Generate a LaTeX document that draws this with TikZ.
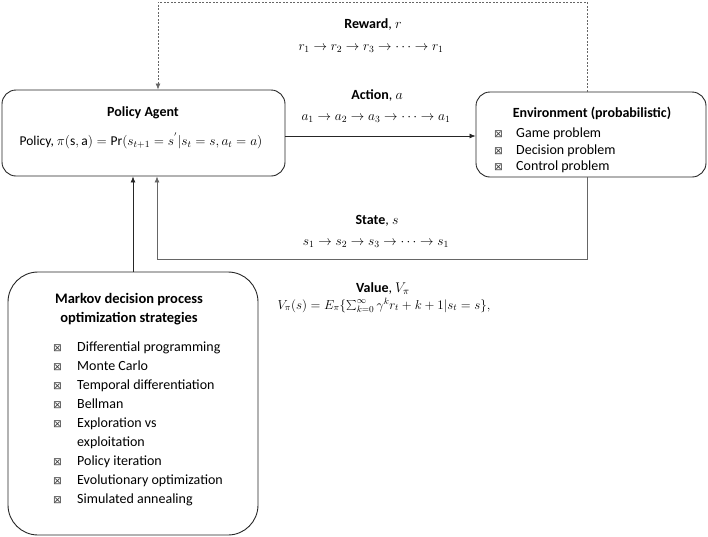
\RequirePackage{fix-cm}
\documentclass[tikz,border=0pt]{standalone}
\usepackage{fontspec}
\setmainfont{Carlito}
\newfontfamily\dv{DejaVu Sans}
\usetikzlibrary{arrows.meta}
\newcommand{\bx}{{\dv\fontsize{10.5}{12}\selectfont\color{black!75}⊠}}
\begin{document}
\begin{tikzpicture}[x=1pt,y=-1pt,
  box/.style={draw=black!85,line width=0.9pt,rounded corners=14pt},
  conn/.style={line width=0.7pt,-{Latex[length=6pt,width=5pt]}},
  lbl/.style={font=\fontsize{14}{17}\selectfont,inner sep=0pt,anchor=base},
  chain/.style={lbl,font=\fontsize{13.5}{17}\selectfont},
  item/.style={font=\fontsize{14}{17}\selectfont,inner sep=0pt,anchor=base west}]
\useasboundingbox (0,0) rectangle (708,536);
% boxes
\node[box,minimum width=283pt,minimum height=86pt] (pol) at (143.5,133) {};
\node[box,minimum width=230pt,minimum height=85pt] (env) at (591,134.5) {};
\node[box,rounded corners=30pt,minimum width=250pt,minimum height=263pt] (mk) at (133,403.5) {};
% coordinates
\coordinate (dtop) at (587,2);
\coordinate (dleft) at (158,2);
\coordinate (ay) at (0,136);
\coordinate (sbot) at (587,259);
\coordinate (sleft) at (157,259);
\coordinate (mx) at (133,0);
% connectors
\draw[conn,black!60,dash pattern=on 2pt off 1.5pt] (env.north -| dtop) -- (dtop) -- (dleft) -- (dleft |- pol.north);
\draw[conn,black!85] (pol.east |- ay) -- (env.west |- ay);
\draw[conn,black!60] (env.south -| sbot) -- (sbot) -- (sleft) -- (sleft |- pol.south);
\draw[conn,black!85] (mk.north -| mx) -- (pol.south -| mx);
% reward
\node[lbl] (rw) at (373,28) {\textbf{Reward}, $r$};
\node[chain] (rwc) at (371,50) {$r_1 \rightarrow r_2 \rightarrow r_3 \rightarrow\cdots\rightarrow r_1$};
% action
\node[lbl] (ac) at (377,99) {\textbf{Action}, $a$};
\node[chain] (acc) at (376,120) {$a_1 \rightarrow a_2 \rightarrow a_3 \rightarrow\cdots\rightarrow a_1$};
% policy
\node[lbl] (pt) at (143,116) {\textbf{Policy Agent}};
\node[lbl,font=\fontsize{13.5}{17}\selectfont] (pf) at (141,145) {Policy, $\pi(\mathrm{s},\mathrm{a}) = \mathrm{Pr}(s_{t+1} = s^{'}|s_t = s, a_t = a)$};
% environment
\node[lbl] (et) at (592,117) {\textbf{Environment (probabilistic)}};
\node[item] (e1b) at (494,137) {\bx};
\node[item] (e1) at (516,137) {Game problem};
\node[item] (e2b) at (494,154) {\bx};
\node[item] (e2) at (516,154) {Decision problem};
\node[item] (e3b) at (494,170) {\bx};
\node[item] (e3) at (516,170) {Control problem};
% state
\node[lbl] (st) at (377,224) {\textbf{State}, $s$};
\node[chain] (stc) at (376,245) {$s_1 \rightarrow s_2 \rightarrow s_3 \rightarrow\cdots\rightarrow s_1$};
% value
\node[lbl] (vl) at (383,292) {\textbf{Value}, $V_\pi$};
\node[lbl,font=\fontsize{13}{17}\selectfont] (vf) at (384,309) {$V_\pi(s) = E_\pi\{\sum_{k=0}^{\infty}\gamma^k r_t + k + 1|s_t = s\},$};
% markov
\node[lbl,font=\fontsize{14.5}{17}\selectfont] (mt1) at (129,303) {\textbf{Markov decision process}};
\node[lbl,font=\fontsize{14.5}{17}\selectfont] (mt2) at (129,322) {\textbf{optimization strategies}};
\foreach \t [count=\i] in {Differential programming,Monte Carlo,Temporal differentiation,Bellman,Exploration vs}{
  \node[item] (mb\i) at (53,332+19*\i) {\bx};
  \node[item] (m\i) at (77,332+19*\i) {\t};
}
\node[item] (m6) at (77,446) {exploitation};
\foreach \t [count=\i from 7] in {Policy iteration,Evolutionary optimization,Simulated annealing}{
  \node[item] (mb\i) at (53,465+19*\i-133) {\bx};
  \node[item] (m\i) at (77,465+19*\i-133) {\t};
}
\end{tikzpicture}
\end{document}
